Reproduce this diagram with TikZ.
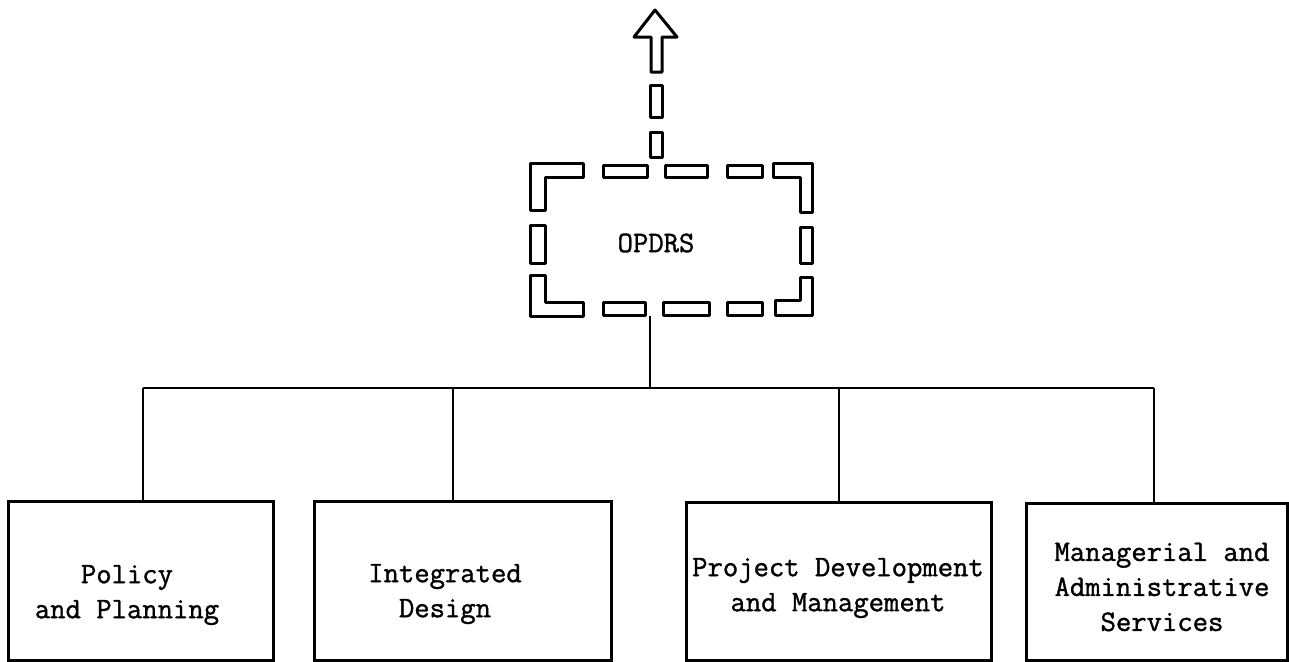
\documentclass[tikz,border=0pt]{standalone}
\usepackage{fontspec}
\newfontfamily\twfont[FakeBold=1.2]{Latin Modern Mono}
\begin{document}
\begin{tikzpicture}[x=0.5pt,y=-0.5pt,
  conn/.style={line width=1.3pt},
  orgbox/.style={draw, line width=1.5pt, rectangle, inner sep=0pt},
  lbl/.style={font=\twfont\fontsize{14.9}{17.5}\selectfont, align=center, inner sep=0pt},
  hollow/.style={draw, line width=1.5pt, line join=round}]
\useasboundingbox[fill=white] (0,0) rectangle (1289,661);

% organisational boxes
\node[orgbox, minimum width=132.5pt, minimum height=79.5pt] (b1) at (140.5,580.5) {};
\node[orgbox, minimum width=148.5pt, minimum height=79.5pt] (b2) at (462.5,580.5) {};
\node[orgbox, minimum width=152.5pt, minimum height=79pt] (b3) at (838.5,581) {};
\node[orgbox, minimum width=130.5pt, minimum height=78.5pt] (b4) at (1156.5,581.5) {};

\node[lbl] (t1) at (127,595) {Policy\\and Planning};
\node[lbl] (t2) at (445,594) {Integrated\\Design};
\node[lbl] (t3) at (838,588) {Project Development\\and Management};
\node[lbl] (t4) at (1162,587) {Managerial and\\Administrative\\Services};

% OPDRS frame (invisible node) and label
\node[inner sep=0pt, minimum width=141pt, minimum height=76.5pt] (opdrs) at (671,239.5) {};
\node[lbl] (t0) at (656,243) {OPDRS};

% hollow dashed frame
\draw[hollow] (530,163) -- (583,163) -- (583,177) -- (545,177) -- (545,210) -- (530,210) -- cycle;
\draw[hollow] (603,165) rectangle (647,177);
\draw[hollow] (665,165) rectangle (707,177);
\draw[hollow] (727,165) rectangle (762,177);
\draw[hollow] (773,163) -- (812,163) -- (812,212) -- (800,212) -- (800,177) -- (773,177) -- cycle;
\draw[hollow] (530,225) rectangle (545,263);
\draw[hollow] (800,227) rectangle (812,263);
\draw[hollow] (530,275) -- (545,275) -- (545,302) -- (583,302) -- (583,316) -- (530,316) -- cycle;
\draw[hollow] (603,302) rectangle (645,315);
\draw[hollow] (663,302) rectangle (709,315);
\draw[hollow] (727,302) rectangle (762,315);
\draw[hollow] (800,277) -- (812,277) -- (812,315) -- (775,315) -- (775,300) -- (800,300) -- cycle;

% hollow dashed arrow upward
\draw[hollow] (650,132) rectangle (662,157);
\draw[hollow] (650,85) rectangle (662,117);
\draw[hollow] (651,72) -- (651,37) -- (634,37) -- (655,10) -- (677,37) -- (662,37) -- (662,72) -- cycle;

% connectors
\coordinate (s0) at (650,388);
\coordinate (s1) at (143,388);
\coordinate (s2) at (453,388);
\coordinate (s3) at (839,388);
\coordinate (s4) at (1154,388);
\draw[conn] (s0 |- opdrs.south) -- (s0);
\draw[conn] (s1) -- (s4);
\draw[conn] (s1) -- (s1 |- b1.north);
\draw[conn] (s2) -- (s2 |- b2.north);
\draw[conn] (s3) -- (s3 |- b3.north);
\draw[conn] (s4) -- (s4 |- b4.north);
\end{tikzpicture}
\end{document}
